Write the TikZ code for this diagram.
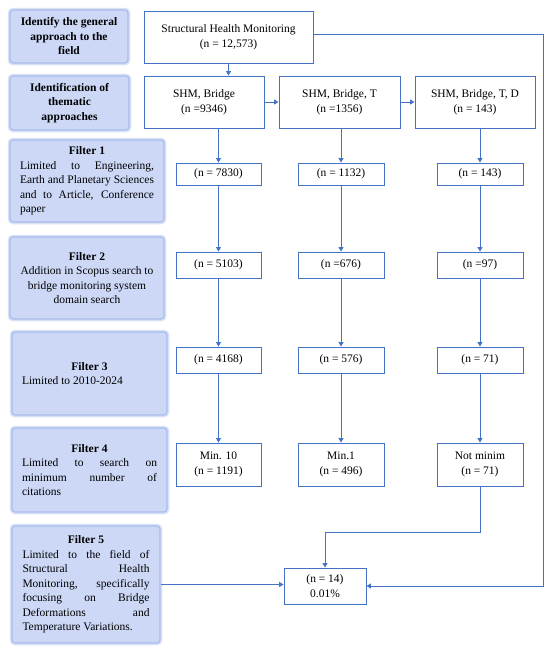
\documentclass[tikz,border=0pt]{standalone}
\usepackage{fontspec}
\setmainfont{Liberation Serif}
\usetikzlibrary{arrows.meta}
\definecolor{lineblue}{HTML}{4472C4}
\definecolor{fillblue}{HTML}{CCD8F6}
\definecolor{glowblue}{HTML}{A8BDEC}
\tikzset{
  stagebox/.style={fill=fillblue, draw=glowblue, line width=1.2pt, rounded corners=3pt,
    preaction={draw=glowblue!45, line width=4.5pt},
    font=\fontsize{11.5}{14.5}\selectfont, inner ysep=2pt},
  stagetitle/.style={stagebox, align=center, font=\fontsize{11.5}{14.5}\selectfont\bfseries},
  countbox/.style={draw=lineblue, line width=0.9pt, fill=white, align=center,
    font=\fontsize{11.5}{14.5}\selectfont, inner sep=2pt},
  flow/.style={draw=lineblue, line width=0.9pt, -{Triangle[length=4.5pt,width=5pt]}}
}
\begin{document}
\begin{tikzpicture}[x=1pt,y=-1pt]
\useasboundingbox (0,0) rectangle (550,648);
% left column: stages and filters
\node (approach) at (69,36.5) [stagetitle, minimum width=118pt, minimum height=53pt] {Identify the general\\approach to the\\field};
\node (thematic) at (69.5,103) [stagetitle, minimum width=119pt, minimum height=54pt] {Identification of\\thematic\\approaches};
\node (filterA) at (87,181) [stagebox, text width=134pt, inner xsep=10pt, minimum height=82pt, align=justify] {{\centering\textbf{Filter 1}\par}Limited to Engineering, \linebreak Earth and Planetary Sciences \linebreak and to Article, Conference \linebreak paper};
\node (filterB) at (87,278) [stagebox, minimum width=154pt, minimum height=82pt, align=center] {\textbf{Filter 2}\\Addition in Scopus search to\\bridge monitoring system\\domain search};
\node (filterC) at (89.5,373.5) [stagebox, text width=135pt, inner xsep=10pt, minimum height=83pt, align=justify] {{\centering\textbf{Filter 3}\par}Limited to 2010-2024};
\node (filterD) at (89.5,470) [stagebox, text width=135pt, inner xsep=10pt, minimum height=84pt, align=justify] {{\centering\textbf{Filter 4}\par}Limited to search on \linebreak minimum number of \linebreak citations};
\node (filterE) at (86,584.5) [stagebox, text width=127pt, inner xsep=10.5pt, minimum height=117pt, align=justify] {{\centering\textbf{Filter 5}\par}Limited to the field of \linebreak Structural Health \linebreak Monitoring, specifically \linebreak focusing on Bridge \linebreak Deformations and \linebreak Temperature Variations.};
% right part: counts
\node (shm) at (228.5,37) [countbox, minimum width=169pt, minimum height=52pt] {Structural Health Monitoring\\(n = 12,573)};
\node (bridge) at (204,102) [countbox, minimum width=120pt, minimum height=52pt] {SHM, Bridge\\(n =9346)};
\node (bridgeT) at (339.5,102) [countbox, minimum width=121pt, minimum height=52pt] {SHM, Bridge, T\\(n =1356)};
\node (bridgeTD) at (475,102) [countbox, minimum width=120pt, minimum height=52pt] {SHM, Bridge, T, D\\(n = 143)};
\node (a1) at (218.5,174) [countbox, minimum width=85pt, minimum height=22pt] {(n = 7830)};
\node (b1) at (341,174) [countbox, minimum width=86pt, minimum height=22pt] {(n = 1132)};
\node (c1) at (480,174) [countbox, minimum width=86pt, minimum height=22pt] {(n = 143)};
\node (a2) at (218.5,265) [countbox, minimum width=85pt, minimum height=26pt] {(n = 5103)};
\node (b2) at (341,265) [countbox, minimum width=86pt, minimum height=26pt] {(n =676)};
\node (c2) at (480,265) [countbox, minimum width=86pt, minimum height=26pt] {(n =97)};
\node (a3) at (218.5,360) [countbox, minimum width=85pt, minimum height=26pt] {(n = 4168)};
\node (b3) at (341,360) [countbox, minimum width=86pt, minimum height=26pt] {(n = 576)};
\node (c3) at (480,360) [countbox, minimum width=86pt, minimum height=26pt] {(n = 71)};
\node (a4) at (218.5,464.5) [countbox, minimum width=85pt, minimum height=43pt] {Min. 10\\(n = 1191)};
\node (b4) at (341,464.5) [countbox, minimum width=86pt, minimum height=43pt] {Min.1\\(n = 496)};
\node (c4) at (480,464.5) [countbox, minimum width=86pt, minimum height=43pt] {Not minim\\(n = 71)};
\node (final) at (325,586) [countbox, minimum width=82pt, minimum height=36pt] {(n = 14)\\0.01\%};
% connectors
\draw[flow] (shm) -- (shm |- bridge.north);
\draw[flow] (bridge) -- (bridgeT);
\draw[flow] (bridgeT) -- (bridgeTD);
\draw[flow] (bridge.south -| a1.north) -- (a1.north);
\draw[flow] (bridgeT.south -| b1.north) -- (b1.north);
\draw[flow] (bridgeTD.south -| c1.north) -- (c1.north);
\foreach \col in {a,b,c}{
  \draw[flow] (\col1) -- (\col2);
  \draw[flow] (\col2) -- (\col3);
  \draw[flow] (\col3) -- (\col4);
}
\coordinate (loopcorner) at (543,34);
\coordinate (mergept) at (480,532);
\draw[flow] (shm.east |- loopcorner) -- (loopcorner) |- (final.east);
\draw[flow] (c4) -- (mergept) -| (final.north);
\draw[flow] (filterE.east) -- (filterE.east -| final.west);
\end{tikzpicture}
\end{document}
